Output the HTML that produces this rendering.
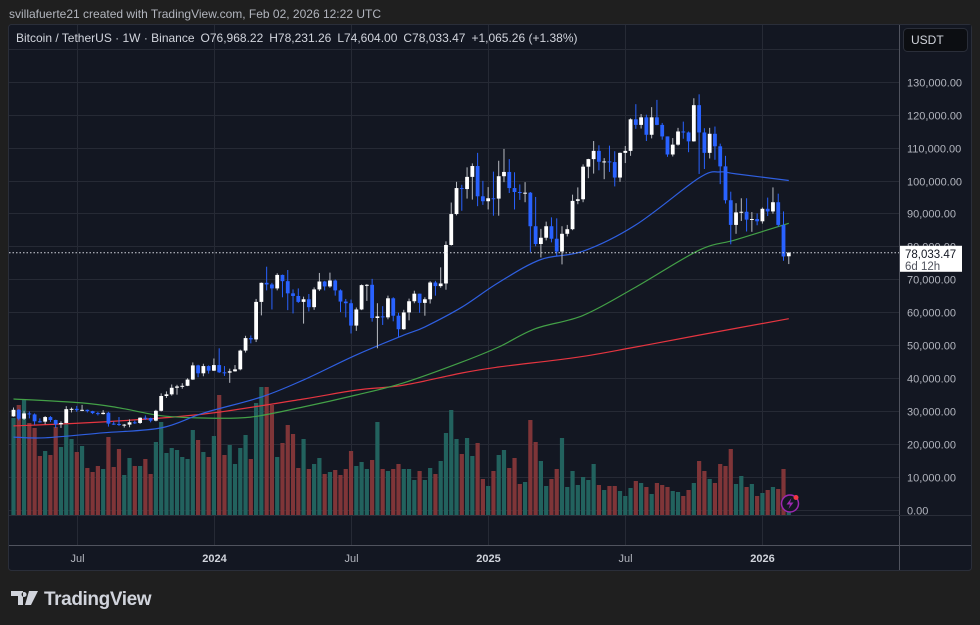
<!DOCTYPE html>
<html><head><meta charset="utf-8">
<style>
html,body{margin:0;padding:0;background:#1f1f1f;}
svg{display:block;font-family:"Liberation Sans",sans-serif;}
</style></head>
<body>
<svg id="chart" width="980" height="625" viewBox="0 0 980 625" xmlns="http://www.w3.org/2000/svg">
  <rect x="0" y="0" width="980" height="625" fill="#1f1f1f"/>
  <text x="9" y="18" font-size="12" fill="#b2b5be">svillafuerte21 created with TradingView.com, Feb 02, 2026 12:22 UTC</text>
  <rect x="8.5" y="24.5" width="963" height="546" rx="3" fill="#131722" stroke="#2a2e39"/>
  <g id="grid"></g>
  <g id="volumes"></g>
  <g id="mas"></g>
  <g id="candles"></g>
  <line id="lastline" x1="9" x2="899" stroke="#d1d4dc" stroke-dasharray="1.5,2" stroke-width="1"/>
  <rect x="899" y="25" width="72" height="521" fill="#131722"/>
  <line x1="899.5" y1="25" x2="899.5" y2="570" stroke="#50535e"/>
  <line x1="9" y1="545.5" x2="971" y2="545.5" stroke="#50535e"/>
  <line x1="9" y1="515.5" x2="971" y2="515.5" stroke="#2a2e39"/>
  <g id="yaxis"></g>
  <g id="xaxis"></g>
  <g>
    <rect x="903.5" y="28.5" width="64" height="23" rx="4" fill="#0c0e12" stroke="#2a2e39"/>
    <text x="911" y="44" font-size="12" fill="#d1d4dc">USDT</text>
  </g>
  <g id="lastlabel">
    <rect id="lastrect" x="900" width="62" height="26" fill="#ffffff"/>
    <text id="lasttext1" x="905" font-size="11.5" fill="#131722">78,033.47</text>
    <text id="lasttext2" x="905" font-size="11.5" fill="#50535e">6d 12h</text>
  </g>
  <text x="16" y="42" font-size="12" fill="#d1d4dc">Bitcoin / TetherUS · 1W · Binance<tspan dx="6">O76,968.22</tspan><tspan dx="6">H78,231.26</tspan><tspan dx="6">L74,604.00</tspan><tspan dx="6">C78,033.47</tspan><tspan dx="6">+1,065.26 (+1.38%)</tspan></text>
  <g>
    <circle cx="790" cy="503.5" r="8.5" fill="#131722" stroke="#9c27b0" stroke-width="1.5"/>
    <path d="M791.5 498 L786.5 504.5 L790 504.5 L788.5 509 L793.5 502.5 L790 502.5 Z" fill="#9c27b0"/>
    <circle cx="796" cy="497.5" r="2.5" fill="#f23645"/>
  </g>
  <g>
    <path d="M11 591 h12 v14 h-5 v-9 h-7 z M24 592 a2.5 2.5 0 1 0 0.1 0 z M29 591 h9 l-7 14 h-6 z" fill="#d1d4dc"/>
    <text x="44" y="605" font-size="19" font-weight="bold" fill="#d1d4dc" letter-spacing="-0.4">TradingView</text>
  </g>
</svg>
<script>
// ---- data (prices in thousands USDT), weekly from 2023-04-10 ----
const firstOpen = 28.3;
const closes = [30.3,27.6,29.2,28.9,26.8,26.7,28.1,27.2,25.9,26.3,30.5,30.6,30.2,30.3,29.9,29.3,29.0,29.4,26.1,26.0,25.7,25.8,26.5,26.3,27.9,27.8,27.0,30.0,34.5,35.0,37.0,37.4,37.6,39.5,43.8,41.4,43.6,42.2,
43.9,41.7,41.6,42.0,42.6,48.3,52.1,51.7,63.1,68.9,68.4,67.2,71.3,69.4,65.7,64.9,63.1,63.9,61.5,66.9,69.3,67.8,69.6,66.6,63.2,62.7,55.9,60.8,68.2,68.3,58.2,58.7,58.4,64.2,58.9,54.8,59.9,63.3,65.6,62.8,63.9,69.0,67.9,68.7,80.4,89.8,97.7,97.4,101.1,104.4,95.2,93.7,94.6,
94.5,101.3,102.6,97.7,96.5,96.2,96.3,86.1,80.7,82.6,86.1,82.3,78.4,83.8,85.2,93.8,94.3,104.2,106.5,109.0,105.7,105.8,105.6,100.9,108.4,109.0,118.6,116.9,119.2,113.9,119.2,116.9,113.4,107.9,110.9,114.9,114.6,111.9,122.9,114.6,108.4,114.2,110.4,104.3,94.0,86.5,90.3,90.5,88.1,88.3,87.6,91.4,90.6,93.4,86.5,76.9,78.03];
const highs = [31.0,30.5,30.0,29.8,29.2,27.7,28.4,28.4,27.3,26.8,31.4,31.0,31.5,31.8,30.4,30.0,29.7,30.2,29.7,26.8,28.1,26.0,27.4,27.0,28.0,28.6,27.9,30.3,35.3,35.9,38.0,37.9,38.4,39.9,44.7,44.0,44.3,43.8,
45.9,49.0,43.6,42.8,43.9,48.6,52.8,52.9,64.0,69.0,73.8,68.9,71.8,71.4,72.8,66.9,67.2,64.7,65.5,67.5,71.9,69.5,72.0,69.9,66.9,64.0,63.8,61.4,68.4,68.5,70.1,62.7,61.8,65.0,64.5,59.8,60.7,64.1,66.5,65.6,64.5,69.4,69.5,73.6,81.5,93.3,99.6,98.7,104.0,105.2,108.4,99.9,98.0,
102.7,106.0,109.6,106.5,102.5,98.8,99.5,96.5,95.0,85.3,87.5,88.8,88.5,86.1,86.5,95.7,97.9,104.9,106.6,112.0,110.7,106.8,110.6,108.9,108.5,110.5,118.9,123.2,120.2,120.0,122.3,124.5,117.5,113.4,112.9,116.0,117.9,114.9,125.0,126.2,115.9,116.0,116.4,111.2,107.5,96.6,93.1,94.6,94.6,90.4,90.0,91.8,94.8,97.9,96.0,90.6,78.23];
const lows = [28.2,27.1,27.2,27.7,25.8,26.4,25.9,26.6,24.8,24.8,26.2,29.5,29.7,29.9,29.5,29.0,28.6,28.9,25.2,25.7,25.4,24.9,25.0,26.0,26.0,27.2,26.5,26.8,29.8,33.9,34.6,34.9,36.7,37.5,39.4,40.2,40.5,41.3,
42.1,41.5,40.6,38.5,41.9,42.3,47.7,50.5,50.9,59.0,66.6,60.8,66.6,64.5,60.6,59.6,62.8,56.5,60.2,60.7,66.4,66.6,67.4,65.0,60.0,58.4,53.5,54.3,60.6,63.4,57.1,49.0,56.1,57.8,57.2,52.5,54.6,57.5,62.7,59.8,58.9,62.6,65.0,67.4,66.8,80.2,89.4,90.8,94.5,94.2,92.2,92.6,91.2,
89.3,89.3,99.5,96.2,91.2,94.1,93.4,78.2,80.0,76.6,81.8,81.2,77.0,74.5,83.0,84.9,92.8,93.4,100.7,102.1,103.1,100.4,102.6,98.2,99.6,105.3,107.5,115.7,115.8,112.0,112.8,116.8,112.4,107.2,107.3,110.6,112.7,108.6,111.8,102.0,103.5,106.7,106.3,98.9,93.0,80.6,83.8,87.7,84.5,84.4,86.4,86.9,89.2,89.9,86.0,75.6,74.6];
const volumes = [97,110,115,92,87,59,64,60,88,68,92,76,63,69,47,43,49,46,78,48,66,40,57,49,49,56,41,73,93,62,67,65,58,56,85,75,63,58,79,120,60,70,51,67,80,56,112,128,128,110,58,72,90,81,47,76,46,51,57,41,43,45,40,46,64,49,53,46,55,93,46,44,46,51,46,46,35,44,35,47,41,54,82,105,76,
61,77,59,72,36,29,44,60,65,47,57,31,33,95,73,54,29,36,46,77,28,44,30,38,35,51,30,25,29,29,24,19,27,34,32,28,21,32,30,28,24,23,19,25,32,54,44,36,32,51,49,66,31,39,28,31,19,22,25,28,26,46,15];
// moving averages: week index and value (k)
const ma50Weeks = [0,6,17,28,36,47,55,65,74,78,85,92,100,108,118,130,134,137,147];
const ma50Vals  = [22,21.8,23.3,24.8,29.3,34.2,39.4,47,53,55.5,61.5,69,76,78.5,86.5,100.8,102.6,102,100];
const ma100Weeks = [0,13,20,28,36,45,55,65,74,85,92,99,108,118,130,137,147];
const ma100Vals  = [33.6,32.4,30.9,28.5,27.8,28.1,31.2,34.8,38.5,44.8,49.4,55,59,67.6,78.8,82,87];
const ma200Weeks = [0,13,28,39,55,65,74,85,92,107,118,130,147];
const ma200Vals  = [25.4,26.3,27.8,29.6,33.6,36.3,37.8,41.5,43.3,46.3,49.4,53,58];
const priceTicks = [0,10,20,30,40,50,60,70,80,90,100,110,120,130,140];
const priceTickLabels = ["0.00","10,000.00","20,000.00","30,000.00","40,000.00","50,000.00","60,000.00","70,000.00","80,000.00","90,000.00","100,000.00","110,000.00","120,000.00","130,000.00",""];
const timeTickWeeks = [12,38,64,90,116,142];
const timeTickLabels = ["Jul","2024","Jul","2025","Jul","2026"];
const timeTickBold = [false,true,false,true,false,true];

// ---- axes ----
const NS = "http://www.w3.org/2000/svg";
function xOf(i){ return 13.5 + 5.274*i; }
function yOf(p){ return 509.5 - p*3.29; }
function yVol(v){ return 515 - v; }
function mk(tag, attrs, parent){ const e=document.createElementNS(NS,tag); for(const k in attrs) e.setAttribute(k,attrs[k]); parent.appendChild(e); return e; }

const grid = document.getElementById('grid');
const yaxis = document.getElementById('yaxis');
const xaxis = document.getElementById('xaxis');
priceTicks.forEach((p,k)=>{
  const y = Math.round(yOf(p))+0.5;
  const l = mk('line',{x1:9,x2:899,y1:y,y2:y,stroke:'#262a35','stroke-width':1},grid);
  
  
  if(priceTickLabels[k]){
    const t = mk('text',{x:907,y:y+4,'font-size':11,fill:'#b2b5be'},yaxis);
    
    
    t.textContent = priceTickLabels[k];
  }
});
timeTickWeeks.forEach((w,k)=>{
  const x = Math.round(xOf(w))+0.5;
  const l = mk('line',{x1:x,x2:x,y1:25,y2:545,stroke:'#262a35','stroke-width':1},grid);
  
  
  const t = mk('text',{x:x,y:562,'font-size':11,'text-anchor':'middle',fill:timeTickBold[k]?'#d1d4dc':'#b2b5be','font-weight':timeTickBold[k]?'bold':'normal'},xaxis);
  
  
  t.textContent = timeTickLabels[k];
});

// ---- series ----
const opens = closes.map((c,i)=> i===0 ? firstOpen : closes[i-1]);
opens[opens.length-1] = 76.968;
const vg = document.getElementById('volumes');
const cg = document.getElementById('candles');
closes.forEach((c,i)=>{
  const o = opens[i], up = c >= o, x = xOf(i);
  const vb = mk('rect',{x:x-2.1,y:yVol(volumes[i]),width:4.2,height:volumes[i],fill:up?'#22625e':'#7f3538'},vg);
  
  
  const w = mk('line',{x1:x,x2:x,y1:yOf(highs[i]),y2:yOf(lows[i]),stroke:up?'#b8bbc2':'#2962ff','stroke-width':1},cg);
  
  
  const top = yOf(Math.max(o,c)), bot = yOf(Math.min(o,c));
  const b = mk('rect',{x:x-1.9,y:top,width:3.8,height:Math.max(1,bot-top),fill:up?'#ffffff':'#2962ff'},cg);
  
  
});
const mg = document.getElementById('mas');
function drawMA(weeks, vals, color, name){
  const P = weeks.map((w,k)=> [xOf(w), yOf(vals[k])]);
  let d = 'M'+P[0][0].toFixed(1)+','+P[0][1].toFixed(1);
  for(let i=0;i<P.length-1;i++){
    const p0=P[Math.max(0,i-1)], p1=P[i], p2=P[i+1], p3=P[Math.min(P.length-1,i+2)];
    const c1x=p1[0]+(p2[0]-p0[0])/6, c1y=p1[1]+(p2[1]-p0[1])/6;
    const c2x=p2[0]-(p3[0]-p1[0])/6, c2y=p2[1]-(p3[1]-p1[1])/6;
    d += ' C'+c1x.toFixed(1)+','+c1y.toFixed(1)+' '+c2x.toFixed(1)+','+c2y.toFixed(1)+' '+p2[0].toFixed(1)+','+p2[1].toFixed(1);
  }
  const pl = mk('path',{d:d,fill:'none',stroke:color,'stroke-width':1.2},mg);
  
  
}
drawMA(ma200Weeks, ma200Vals, '#e53540', 'ma-200-line');
drawMA(ma100Weeks, ma100Vals, '#43a047', 'ma-100-line');
drawMA(ma50Weeks, ma50Vals, '#2f5fe0', 'ma-50-line');

// last price
const lp = closes[closes.length-1];
const ly = yOf(lp);
const ll = document.getElementById('lastline');
ll.setAttribute('y1', ly); ll.setAttribute('y2', ly);
document.getElementById('lastrect').setAttribute('y', ly-7);
document.getElementById('lasttext1').setAttribute('y', ly+5);
document.getElementById('lasttext2').setAttribute('y', ly+17);
</script>
</body></html>
